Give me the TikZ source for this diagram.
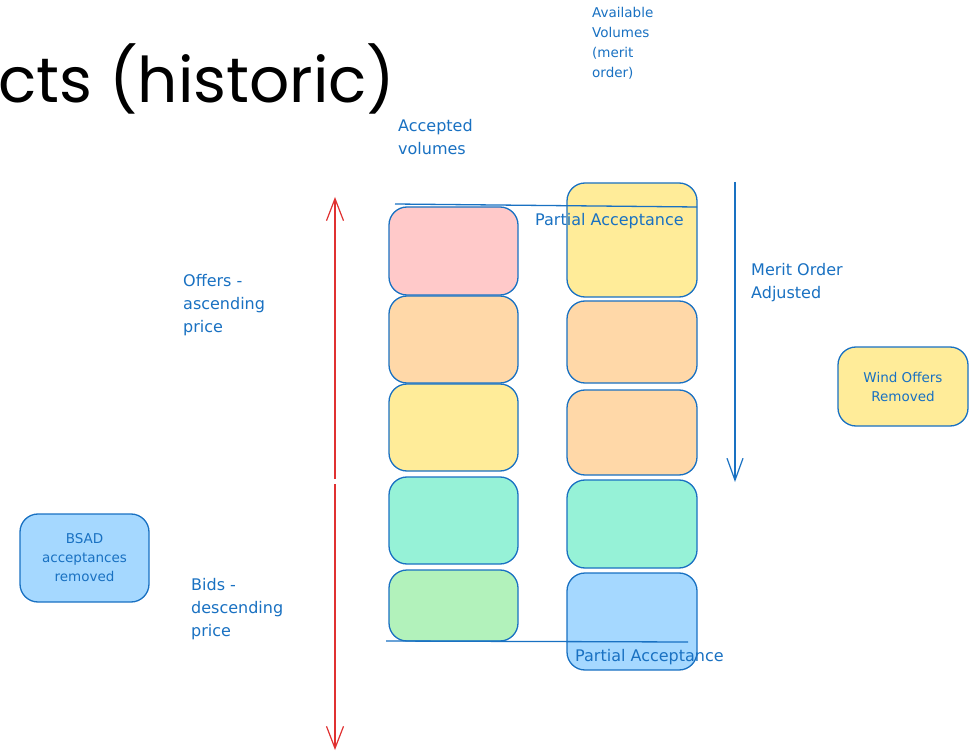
\documentclass[tikz,border=0pt]{standalone}
\usepackage{fontspec}
\setmainfont{DejaVu Sans}
\newfontfamily\titlefont{Poppins}
\usetikzlibrary{arrows.meta}

\definecolor{ink}{HTML}{1971C2}
\definecolor{redink}{HTML}{E03131}
\definecolor{pinkfill}{HTML}{FFC9C9}
\definecolor{orangefill}{HTML}{FFD8A8}
\definecolor{yellowfill}{HTML}{FFEC99}
\definecolor{tealfill}{HTML}{96F2D7}
\definecolor{greenfill}{HTML}{B2F2BB}
\definecolor{bluefill}{HTML}{A5D8FF}

\tikzset{
  volbox/.style={draw=ink, line width=1.3pt, rounded corners=18pt,
    minimum width=129pt, inner sep=0pt, fill=#1},
  note/.style={text=ink, font=\fontsize{16}{23}\selectfont, align=left,
    anchor=north west, inner sep=0pt},
  smallnote/.style={text=ink, font=\fontsize{13.5}{20}\selectfont, align=left,
    anchor=north west, inner sep=0pt},
  boxtext/.style={text=ink, font=\fontsize{13.5}{19}\selectfont, align=center},
  guide/.style={draw=ink, line width=1.3pt},
  pricearrow/.style={draw=redink, line width=1.2pt,
    -{Straight Barb[length=22pt,width=17pt,line width=1.2pt]}},
  meritarrow/.style={draw=ink, line width=1.2pt,
    -{Straight Barb[length=22pt,width=16pt,line width=1.2pt]}},
}

\begin{document}
\begin{tikzpicture}[x=1pt,y=-1pt]
  \useasboundingbox[fill=white] (0,0) rectangle (970,754);

  % heading
  \node[anchor=base west, inner sep=0pt, font=\titlefont\fontsize{63}{70}\selectfont]
    (title) at (-2,103) {cts (historic)};

  % accepted volumes column
  \node[volbox=pinkfill,   minimum height=88pt] (a1) at (453.5,251) {};
  \node[volbox=orangefill, minimum height=87pt] (a2) at (453.5,339.5) {};
  \node[volbox=yellowfill, minimum height=87pt] (a3) at (453.5,427.5) {};
  \node[volbox=tealfill,   minimum height=87pt] (a4) at (453.5,520.5) {};
  \node[volbox=greenfill,  minimum height=71pt] (a5) at (453.5,605.5) {};

  % available volumes column
  \node[volbox=yellowfill, minimum height=114pt, minimum width=130pt] (b1) at (632,240) {};
  \node[volbox=orangefill, minimum height=82pt,  minimum width=130pt] (b2) at (632,342) {};
  \node[volbox=orangefill, minimum height=85pt,  minimum width=130pt] (b3) at (632,432.5) {};
  \node[volbox=tealfill,   minimum height=88pt,  minimum width=130pt] (b4) at (632,524) {};
  \node[volbox=bluefill,   minimum height=97pt,  minimum width=130pt] (b5) at (632,621.5) {};

  % side boxes
  \node[volbox=yellowfill, minimum height=79pt, minimum width=130pt] (wind) at (903,386.5) {};
  \node[boxtext] (windtxt) at (wind.center) {Wind Offers\\Removed};
  \node[volbox=bluefill, minimum height=88pt] (bsad) at (84.5,558) {};
  \node[boxtext] (bsadtxt) at (bsad.center) {BSAD\\acceptances\\removed};

  % partial acceptance cut lines
  \coordinate (topL) at (395,204);
  \coordinate (topR) at (697,207);
  \coordinate (botL) at (386,641);
  \coordinate (botR) at (688,642);
  \draw[guide] (topL) -- (topR);
  \draw[guide] (botL) -- (botR);
  \node[note] (pa1) at (535,213) {Partial Acceptance};
  \node[note] (pa2) at (575,649) {Partial Acceptance};

  % price direction arrows
  \coordinate (upStart) at (335,479);
  \coordinate (upEnd) at (335,197);
  \coordinate (downStart) at (335,484);
  \coordinate (downEnd) at (335,750);
  \draw[pricearrow] (upStart) -- (upEnd);
  \draw[pricearrow] (downStart) -- (downEnd);

  % merit order arrow
  \coordinate (meritStart) at (735,182);
  \coordinate (meritEnd) at (735,482);
  \draw[meritarrow] (meritStart) -- (meritEnd);

  % labels
  \node[note] (offers) at (183,274) {Offers -\\ascending\\price};
  \node[note] (bids) at (191,578) {Bids -\\descending\\price};
  \node[note] (accepted) at (398,119) {Accepted\\volumes};
  \node[smallnote] (available) at (592,7) {Available\\Volumes\\(merit\\order)};
  \node[note] (merit) at (751,263) {Merit Order\\Adjusted};
\end{tikzpicture}
\end{document}
